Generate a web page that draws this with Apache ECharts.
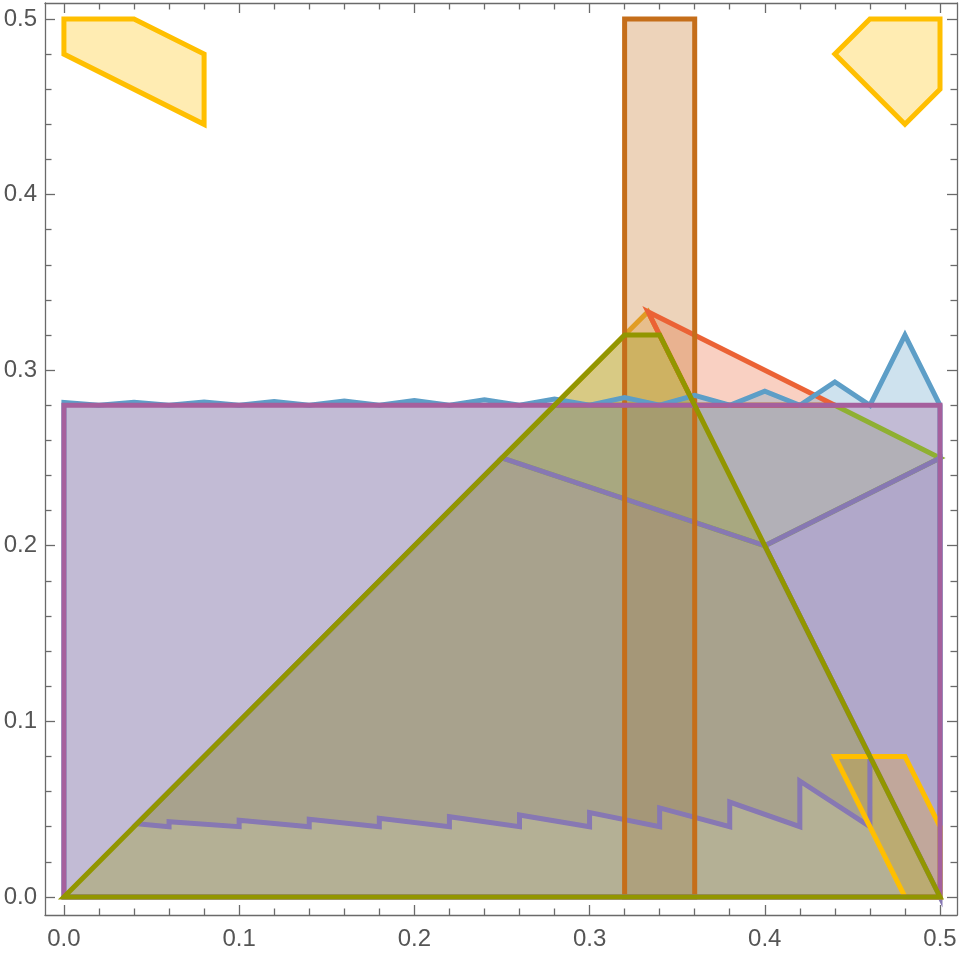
<!DOCTYPE html>
<html>
<head>
<meta charset="utf-8">
<script src="https://cdn.jsdelivr.net/npm/echarts@6/dist/echarts.min.js"></script>
<style>
  html, body { margin: 0; background: #fff; }
  #chart { width: 960px; height: 953px; }
</style>
</head>
<body>
<div id="chart"></div>
<script>
// polygon vertices [x, y], in drawing order
const orangeTri = [[0.28, 0.28], [0.3333, 0.3333], [0.36, 0.28]];
const greenPatch = [[0.25, 0.25], [0.28, 0.28], [0.44, 0.28], [0.5, 0.25], [0.4, 0.2]];
const redTri = [[0.3333, 0.3333], [0.44, 0.28], [0.36, 0.28]];
const purpleSaw = [
  [0.0417, 0.0417], [0.06, 0.04], [0.06, 0.0428], [0.1, 0.04], [0.1, 0.0436],
  [0.14, 0.04], [0.14, 0.0442], [0.18, 0.04], [0.18, 0.0448], [0.22, 0.04],
  [0.22, 0.0457], [0.26, 0.04], [0.26, 0.0467], [0.3, 0.04], [0.3, 0.048],
  [0.34, 0.04], [0.34, 0.0507], [0.38, 0.04], [0.38, 0.054], [0.42, 0.04],
  [0.42, 0.066], [0.46, 0.04], [0.46, 0.08], [0.4, 0.2], [0.25, 0.25]
];
const purpleWedge = [[0.4, 0.2], [0.5, 0.25], [0.5, 0]];
const rustBar = [[0.32, 0], [0.36, 0], [0.36, 0.5], [0.32, 0.5]];
const blueWave = [
  [0, 0], [0, 0.2816], [0.02, 0.28], [0.04, 0.2817], [0.06, 0.28], [0.08, 0.2819],
  [0.1, 0.28], [0.12, 0.2821], [0.14, 0.28], [0.16, 0.2824], [0.18, 0.28],
  [0.2, 0.2827], [0.22, 0.28], [0.24, 0.2831], [0.26, 0.28], [0.28, 0.2836],
  [0.3, 0.28], [0.32, 0.2844], [0.34, 0.28], [0.36, 0.2857], [0.38, 0.28],
  [0.4, 0.288], [0.42, 0.28], [0.44, 0.2933], [0.46, 0.28], [0.48, 0.32],
  [0.5, 0.28], [0.5, 0]
];
const yellowTopLeft = [[0, 0.5], [0.04, 0.5], [0.08, 0.48], [0.08, 0.44], [0, 0.48]];
const yellowTopRight = [[0.46, 0.5], [0.5, 0.5], [0.5, 0.46], [0.48, 0.44], [0.44, 0.48]];
const yellowLowRight = [[0.44, 0.08], [0.48, 0.08], [0.5, 0.04], [0.5, 0], [0.48, 0]];
const magentaRect = [[0, 0], [0.5, 0], [0.5, 0.28], [0, 0.28]];
const oliveTrap = [[0, 0], [0.32, 0.32], [0.34, 0.32], [0.5, 0]];

// ticks
const majorTicks = [0, 0.1, 0.2, 0.3, 0.4, 0.5];
const minorTicks = [0.02, 0.04, 0.06, 0.08, 0.12, 0.14, 0.16, 0.18, 0.22, 0.24,
  0.26, 0.28, 0.32, 0.34, 0.36, 0.38, 0.42, 0.44, 0.46, 0.48];

const layers = [
  { pts: orangeTri, color: '#E19C24' },
  { pts: greenPatch, color: '#8FB032' },
  { pts: redTri, color: '#EB6235' },
  { pts: purpleSaw, color: '#8778B3' },
  { pts: purpleWedge, color: '#8778B3' },
  { pts: rustBar, color: '#C56E1A' },
  { pts: blueWave, color: '#5D9EC7' },
  { pts: yellowTopLeft, color: '#FFBF00' },
  { pts: yellowTopRight, color: '#FFBF00' },
  { pts: yellowLowRight, color: '#FFBF00' },
  { pts: magentaRect, color: '#A5609D' },
  { pts: oliveTrap, color: '#929600' }
];

function polySeries(pts, color, fill, z) {
  return {
    type: 'custom',
    coordinateSystem: 'cartesian2d',
    silent: true,
    z: z,
    data: [[0, 0]],
    renderItem: function (params, api) {
      return {
        type: 'polygon',
        shape: { points: pts.map(p => api.coord(p)) },
        style: fill
          ? { fill: color, opacity: 0.3, stroke: null }
          : { fill: null, stroke: color, lineWidth: 5, lineJoin: 'miter' }
      };
    }
  };
}

// all faces first, then all edges on top
let series = [];
layers.forEach((l, i) => series.push(polySeries(l.pts, l.color, true, 10 + i)));
layers.forEach((l, i) => series.push(polySeries(l.pts, l.color, false, 30 + i)));

const frameColor = '#6a6a6a';
const labelFont = { fontSize: 24, color: '#555', fontFamily: 'Liberation Sans' };

function makeAxis(pos, min, max, ticks, len, showLine, showLabel, margin) {
  return {
    type: 'value',
    position: pos,
    min: min,
    max: max,
    splitLine: { show: false },
    axisLine: { show: showLine, onZero: false, lineStyle: { color: frameColor, width: 1.3 } },
    axisTick: { show: true, inside: true, length: len, customValues: ticks,
      lineStyle: { color: frameColor, width: 1.3 } },
    axisLabel: Object.assign({
      show: showLabel, customValues: ticks, margin: margin,
      formatter: v => v.toFixed(1)
    }, labelFont)
  };
}

const X_MIN = -0.0108, X_MAX = 0.5097;
const Y_MIN = -0.0103, Y_MAX = 0.5091;

let chart = echarts.init(document.getElementById('chart'));
chart.setOption({
  animation: false,
  grid: { left: 45, right: 3, top: 3, bottom: 38 },
  xAxis: [
    makeAxis('bottom', X_MIN, X_MAX, majorTicks, 10, true, true, 12),
    makeAxis('bottom', X_MIN, X_MAX, minorTicks, 6.5, false, false, 12),
    makeAxis('top', X_MIN, X_MAX, majorTicks, 10, true, false, 8),
    makeAxis('top', X_MIN, X_MAX, minorTicks, 6.5, false, false, 8)
  ],
  yAxis: [
    makeAxis('left', Y_MIN, Y_MAX, majorTicks, 10, true, true, 8),
    makeAxis('left', Y_MIN, Y_MAX, minorTicks, 6.5, false, false, 8),
    makeAxis('right', Y_MIN, Y_MAX, majorTicks, 10, true, false, 8),
    makeAxis('right', Y_MIN, Y_MAX, minorTicks, 6.5, false, false, 8)
  ],
  series: series
});
</script>
</body>
</html>
